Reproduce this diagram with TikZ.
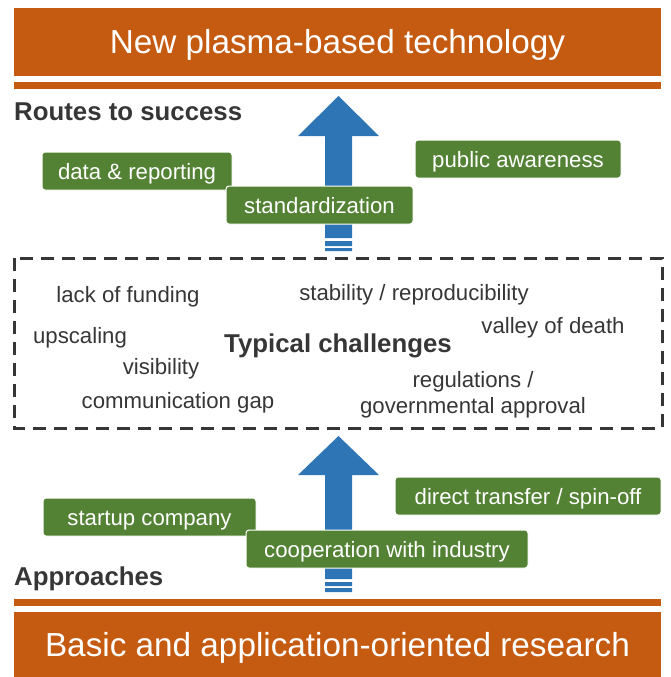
\documentclass[tikz,border=0pt]{standalone}
\usepackage{fontspec}
\setmainfont{Liberation Sans}
\definecolor{plasmaorange}{HTML}{C55A11}
\definecolor{routegreen}{HTML}{548235}
\definecolor{arrowblue}{HTML}{2E75B6}
\definecolor{textgray}{HTML}{363636}

\begin{document}
\begin{tikzpicture}[x=1pt, y=-1pt,
  bar/.style={rectangle, fill=plasmaorange, draw=none, text=white, minimum width=647pt, inner sep=0pt, text height=24pt, text depth=0pt, font=\fontsize{33.3}{36}\selectfont},
  route/.style={rectangle, rounded corners=3pt, fill=routegreen, draw=white, line width=1pt, text=white, minimum height=38pt, inner sep=0pt, text height=16pt, text depth=0pt, font=\fontsize{22.2}{24}\selectfont},
  hurdle/.style={text=textgray, anchor=base, inner sep=0pt, font=\fontsize{22.2}{24}\selectfont},
  heading/.style={text=textgray, anchor=base west, inner sep=0pt, font=\bfseries\fontsize{25.8}{28}\selectfont}]
\useasboundingbox (0,0) rectangle (670,677);

% orange bars top and bottom
\node[bar, minimum height=68pt] (tech) at (337.5,42) {New plasma-based technology};
\fill[plasmaorange] (14,82) rectangle (661,89);
\fill[plasmaorange] (14,599) rectangle (661,606);
\node[bar, minimum height=65pt] (research) at (337.5,644.5) {Basic and application-oriented research};

\node[heading] (routes) at (14,120) {Routes to success};
\node[heading] (approaches) at (14,585) {Approaches};

% upper arrow with stripes
\fill[arrowblue] (325,238) -- (325,136) -- (298,136) -- (338.5,96)
      -- (379,136) -- (352,136) -- (352,238) -- cycle;
\fill[arrowblue] (325,241) rectangle (352,246) (325,248) rectangle (352,251);

\node[route, minimum width=190pt] (data) at (137,171) {data \& reporting};
\node[route, minimum width=206pt] (public) at (518,159) {public awareness};
\node[route, minimum width=187pt] (standard) at (319.5,205) {standardization};

% challenges
\draw[textgray, line width=3pt, dash pattern=on 13pt off 8pt]
      (14,258) rectangle (662,428);
\node[hurdle] (funding) at (128,302) {lack of funding};
\node[hurdle] (stability) at (414,300) {stability / reproducibility};
\node[hurdle] (valley) at (553,333) {valley of death};
\node[hurdle] (upscaling) at (80,343) {upscaling};
\node[hurdle, font=\bfseries\fontsize{25.8}{28}\selectfont] (typical) at (338,352) {Typical challenges};
\node[hurdle] (visibility) at (161,374) {visibility};
\node[hurdle] (regulations) at (473,387) {regulations /};
\node[hurdle] (approval) at (473,413) {governmental approval};
\node[hurdle] (gap) at (178,408) {communication gap};

% lower arrow with stripes
\fill[arrowblue] (325,579) -- (325,475) -- (298,475) -- (338.5,436)
      -- (379,475) -- (352,475) -- (352,579) -- cycle;
\fill[arrowblue] (325,582) rectangle (352,586) (325,588) rectangle (352,592);

\node[route, minimum width=213pt] (startup) at (149.5,517) {startup company};
\node[route, minimum width=266pt] (direct) at (528,496) {direct transfer / spin-off};
\node[route, minimum width=282pt] (coop) at (387,549) {cooperation with industry};

\end{tikzpicture}
\end{document}
